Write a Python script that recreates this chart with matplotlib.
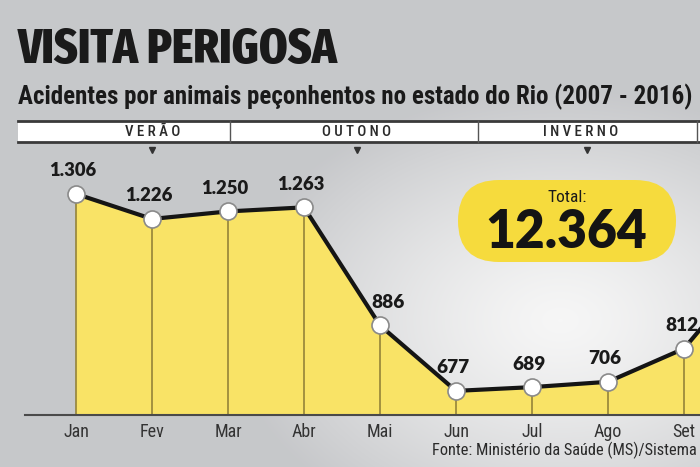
import numpy as np
import matplotlib
matplotlib.use("Agg")
import matplotlib.pyplot as plt
from matplotlib import font_manager
from matplotlib.patches import FancyBboxPatch, Rectangle

# ---- data ----
months = ["Jan", "Fev", "Mar", "Abr", "Mai", "Jun", "Jul", "Ago", "Set", "Out"]
values = [1306, 1226, 1250, 1263, 886, 677, 689, 706, 812, 1100]  # Out estimated (off-frame)
value_labels = ["1.306", "1.226", "1.250", "1.263", "886", "677", "689", "706", "812", ""]
seasons = ["VERÃO", "OUTONO", "INVERNO"]
title = "VISITA PERIGOSA"
subtitle = "Acidentes por animais peçonhentos no estado do Rio (2007 - 2016)"
total_label = "Total:"
total_value = "12.364"
source = "Fonte: Ministério da Saúde (MS)/Sistema"

fonts = font_manager.fontManager.ttflist


def weight_num(w):
    if isinstance(w, (int, float)):
        return w
    return font_manager.weight_dict.get(w, 400)


def pick(cands, min_w=0):
    for c in cands:
        if any(f.name == c and weight_num(f.weight) >= min_w for f in fonts):
            return [c, "DejaVu Sans"]
    return ["DejaVu Sans"]


NARROW = pick(["Roboto Condensed", "Fira Sans Condensed", "Barlow Condensed",
               "IBM Plex Sans Condensed", "Liberation Sans Narrow"], 700)
TITLEF = pick(["Fira Sans Extra Condensed", "Roboto Condensed", "Barlow Condensed",
               "IBM Plex Sans Condensed"], 700)
HEAVY = pick(["Nunito", "Montserrat", "Lato", "Open Sans"], 800)

W, H = 700, 467
fig = plt.figure(figsize=(W / 100, H / 100), dpi=100)
renderer = fig.canvas.get_renderer()


def fit_text(axx, x, y, s, target_w, size0=12, **kw):
    t = axx.text(x, y, s, fontsize=size0, **kw)
    w = t.get_window_extent(renderer=renderer).width
    if w > 0:
        t.set_fontsize(size0 * target_w / w)
    return t


# ---- background (pixel coordinates) ----
bg = fig.add_axes([0, 0, 1, 1])
bg.set_xlim(0, W)
bg.set_ylim(H, 0)
bg.axis("off")
yy, xx = np.mgrid[0:H, 0:W]
d = np.sqrt(((xx - 560) / 330.0) ** 2 + ((yy - 320) / 230.0) ** 2)
t = np.clip(d, 0, 1) ** 1.3
c_in = np.array([0.965, 0.965, 0.965])
c_out = np.array([0.78, 0.785, 0.795])
img = c_in[None, None, :] * (1 - t[..., None]) + c_out[None, None, :] * t[..., None]
bg.imshow(img, extent=(0, W, H, 0), aspect="auto", zorder=0)

fit_text(bg, 18, 50, title, 319, size0=30, fontweight="heavy", family=TITLEF,
         color="#1a1a1a", va="center", ha="left")
fit_text(bg, 18, 97, subtitle, 676, size0=15, fontweight="bold", family=NARROW,
         color="#1a1a1a", va="center", ha="left")

# season band
bg.add_patch(Rectangle((18, 121), W - 18, 21, facecolor="white", edgecolor="none", zorder=1))
bg.plot([18, W], [121, 121], color="#3a3a3a", lw=2, zorder=2)
bg.plot([18, W], [142, 142], color="#3a3a3a", lw=2, zorder=2)
for sx in [230, 478, 697]:
    bg.plot([sx, sx], [121, 142], color="#555555", lw=1, zorder=2)
season_x = [153, 357, 581]
first = fit_text(bg, season_x[0], 131.5, " ".join(seasons[0]), 55, size0=9,
                 fontweight="medium", family=NARROW, color="#2a2a2a",
                 ha="center", va="center", zorder=3)
season_size = first.get_fontsize()
for s, sx in zip(seasons[1:], season_x[1:]):
    bg.text(sx, 131.5, " ".join(s), fontsize=season_size, fontweight="medium", family=NARROW,
            color="#2a2a2a", ha="center", va="center", zorder=3)
for sx in [152, 357, 587]:
    bg.plot(sx, 150, marker="v", color="#333333", markersize=5, zorder=3)

# total pill
bg.add_patch(FancyBboxPatch((458, 180), 218, 82, boxstyle="round,pad=0,rounding_size=41",
                            facecolor="#F6DB3D", edgecolor="none", zorder=1))
bg.text(567, 197, total_label, fontsize=12.5, family=NARROW, color="#1a1a1a",
        ha="center", va="center", zorder=2)
fit_text(bg, 566, 232, total_value, 162, size0=30, fontweight="heavy", family=HEAVY,
         color="#141414", ha="center", va="center", zorder=2)

fit_text(bg, 432, 450, source, 265, size0=12, family=NARROW, color="#2a2a2a",
         ha="left", va="center", zorder=2)

# ---- chart axes ----
px_jan, px_step = 76, 76
top_px, base_px = 150, 415
units_per_px = 3.193
ymin = 600
ax = fig.add_axes([0, (H - base_px) / H, 1, (base_px - top_px) / H])
ax.patch.set_alpha(0)
for sp in ax.spines.values():
    sp.set_visible(False)
ax.tick_params(left=False, labelleft=False, bottom=False, labelbottom=True, pad=2)

x = np.arange(len(values))
ax.fill_between(x, values, ymin, color="#F9E366", zorder=1)
ax.vlines(x, ymin, values, color="#8C7B35", lw=1.1, zorder=2)
ax.plot(x, values, color="#151515", lw=3, zorder=3, solid_joinstyle="round")
ax.scatter(x, values, s=150, facecolor="white", edgecolor="#8a8a8a", linewidth=1.2, zorder=4)

ax.set_xticks(x)
ax.set_xticklabels(months, fontsize=13, family=NARROW, color="#333333")
xlo, xhi = (0 - px_jan) / px_step, (W - px_jan) / px_step
ax.set_xlim(xlo, xhi)
ax.set_ylim(ymin, ymin + (base_px - top_px) * units_per_px)
ax.plot([(25 - px_jan) / px_step, xhi], [ymin, ymin],
        color="#4a4a4a", lw=1.5, zorder=5, clip_on=False)
ax.set_xlim(xlo, xhi)

dx_nudge = {4: 0.14, 8: 0.02}
for i, (v, lab) in enumerate(zip(values, value_labels)):
    if not lab:
        continue
    fit_text(ax, i + dx_nudge.get(i, 0) - 0.04, v + 23 * units_per_px, lab,
             47 if len(lab) > 3 else 33, size0=12, fontweight="heavy", family=HEAVY,
             color="#1a1a1a", ha="center", va="center", zorder=6, clip_on=True)

fig.savefig("out.png", dpi=100)
